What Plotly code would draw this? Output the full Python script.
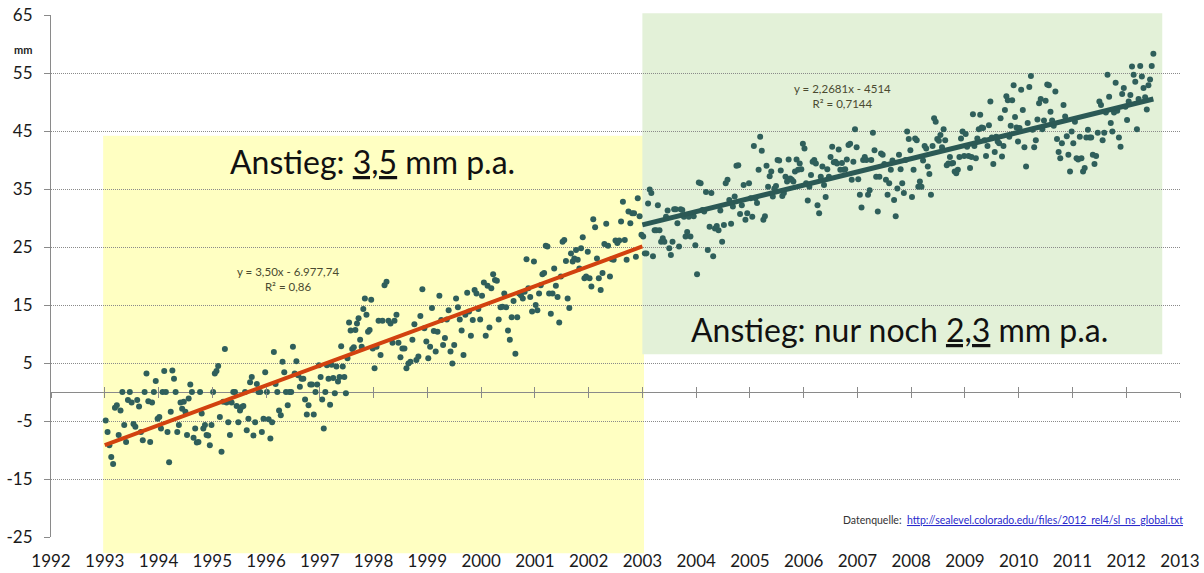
import numpy as np
import plotly.graph_objects as go

# ---------------- data ----------------
years = list(range(1993, 2013))
last_year_span = 0.52  # 2012 data only until mid-year

v1993 = [-4.9, -6.9, -9.2, -11.2, -12.4, -2.7, -2.3, -7.4, -3.2, 0.0, -5.7, -8.6, -1.4, 0.0, -1.8,
         -5.5, -6.0, -1.4, -2.5, -6.9, -8.3, 0.0, 3.2, -1.6, -8.6, -1.8, 0.0, 1.9, -4.6]
v1994 = [-4.3, -6.3, 0.0, 3.6, 0.0, -6.9, -12.1, -3.4, 3.7, 2.3, 0.0, -6.9, -5.7, -1.8, -2.9, -1.7,
         -3.4, -7.4, -1.1, 1.3, 0.0, -7.9, -6.3, -8.7, -8.6, 0.0, -3.7, -6.3, -5.7, -7.4, -7.5, -9.2, -5.7]
v1995 = [0.0, 3.2, 3.6, 4.5, -4.3, -10.3, -1.7, 7.4, -1.8, -5.2, -7.4, -1.8, 0.0, 0.0, -2.4, -5.2,
         -3.2, -2.6, -2.4, 0.0, -6.6, -4.6, 1.7, 2.6, -7.5, -5.2, 1.4, 0.0, 0.0, -6.9, -4.6, 3.4]
v1996 = [0.0, -4.7, -8.0, -5.2, 6.9, 1.4, 0.0, -3.2, -4.0, 5.2, 3.4, 0.0, -2.3, 0.0, 0.0, 7.8,
         3.2, 5.3, 2.9, 0.9, 2.3, 2.3, -1.3, -3.9, -2.3, 1.3, 1.3, -3.9, 0.0, 1.3, 4.6]
v1997 = [2.6, -1.3, -6.3, 0.0, 4.6, 2.3, -2.2, 4.7, 2.4, -0.2, 4.4, 1.8, 2.6, 7.9, 4.4, 2.6, -0.2,
         5.8, 12.0, 10.6, 7.4, 7.7, 10.7, 11.8, 12.7, 9.0, 7.8, 14.3, 16.1, 13.3, 10.4, 10.7, 15.9, 7.5]
v1998 = [4.1, 7.8, 12.3, 6.4, 12.3, 18.4, 19.0, 12.3, 11.8, 8.5, 12.3, 13.3, 8.5, 6.0, 7.5, 7.5,
         4.1, 4.9, 5.2, 9.0, 11.7, 5.5, 6.1, 13.1, 17.7, 11.0, 8.7]
v1999 = [5.8, 7.8, 14.5, 10.5, 7.0, 10.4, 16.6, 12.4, 8.1, 9.3, 12.5, 14.1, 7.0, 4.9, 8.1, 16.1,
         14.6, 12.5, 10.6, 6.4, 13.3, 17.1, 13.9, 9.7, 12.4, 17.6, 17.0, 14.3, 12.5]
v2000 = [16.6, 18.9, 9.7, 18.3, 11.1, 17.9, 20.3, 19.3, 19.2, 12.5, 14.6, 14.7, 17.0, 14.6, 10.6,
         9.0, 12.9, 15.7, 6.6, 12.9, 17.0, 16.7, 16.1, 17.3, 22.9, 17.9, 16.4, 13.9, 22.5]
v2001 = [15.0, 14.1, 17.0, 18.4, 20.3, 20.5, 25.2, 25.1, 17.0, 13.5, 17.0, 21.3, 18.3, 16.4, 12.0,
         19.9, 25.9, 26.2, 22.6, 16.1, 14.5, 23.9, 22.5, 23.0, 24.5, 22.8, 21.3, 24.8, 26.7, 19.6,
         19.9, 24.2]
v2002 = [19.6, 18.2, 29.8, 28.4, 23.0, 19.6, 17.6, 20.5, 25.5, 29.0, 25.2, 19.9, 22.9, 22.8, 26.1,
         25.7, 26.1, 29.4, 32.8, 26.2, 22.8, 31.1, 29.1, 30.8, 30.8, 23.3, 33.4, 30.3, 27.1]
v2003 = [26.8, 23.9, 23.9, 32.5, 34.9, 34.3, 23.4, 27.9, 27.9, 32.2, 27.9, 25.9, 26.5, 25.9, 30.2,
         31.3, 24.8, 23.6, 25.9, 31.5, 31.5, 29.1, 25.1, 31.5, 31.4, 30.2, 26.8, 27.6, 30.2, 26.8,
         30.5, 30.3, 25.3]
v2004 = [20.3, 36.1, 36.0, 31.4, 31.1, 34.5, 24.5, 28.5, 34.3, 23.4, 28.2, 28.6, 27.9, 31.3, 25.9,
         28.8, 36.0, 36.6, 33.1, 29.0, 32.0, 33.7, 39.0, 39.1, 30.7, 32.2, 35.7, 29.7, 30.8, 36.0]
v2005 = [33.4, 30.2, 42.4, 33.4, 32.6, 38.3, 44.0, 41.6, 29.7, 30.3, 39.0, 35.4, 37.2, 38.0, 33.7,
         35.1, 35.5, 40.0, 39.9, 38.2, 33.8, 34.3, 37.1, 36.3, 40.1, 36.8, 36.6, 36.3, 38.0, 40.1,
         38.3, 39.4, 38.4, 42.8]
v2006 = [42.0, 36.0, 33.0, 35.4, 37.4, 39.7, 40.0, 39.4, 32.2, 30.8, 37.1, 38.9, 35.7, 33.6, 38.4,
         37.1, 40.5, 42.3, 39.6, 39.7, 39.4, 41.8, 38.3, 39.5, 38.3, 38.4, 40.1, 42.6, 42.8, 36.6,
         39.7, 45.3, 42.2]
v2007 = [36.7, 34.0, 31.8, 40.0, 40.5, 40.0, 34.0, 34.8, 40.0, 44.7, 41.7, 37.1, 31.1, 37.1, 41.1,
         40.9, 39.3, 36.6, 34.0, 36.0, 38.3, 39.9, 33.1, 30.3, 35.1, 40.9, 38.4, 36.0, 34.3, 40.0,
         44.9, 43.6, 41.7]
v2008 = [33.6, 38.3, 43.7, 43.4, 35.4, 36.3, 35.4, 39.9, 42.4, 42.0, 38.9, 37.6, 34.0, 42.4, 47.2,
         46.6, 43.6, 43.3, 44.3, 42.2, 45.3, 43.4, 39.1, 39.4, 40.5, 39.4, 39.5, 38.0, 37.7, 38.3,
         40.5, 43.7, 44.9, 40.7]
v2009 = [44.5, 42.3, 40.7, 38.6, 40.5, 47.9, 42.4, 40.3, 43.7, 45.3, 47.8, 45.6, 45.5, 43.4, 40.7,
         42.4, 46.0, 50.1, 43.9, 39.3, 41.4, 44.0, 43.2, 42.9, 47.2, 40.6, 42.4, 48.6, 51.0, 50.3,
         44.0, 45.9, 50.3, 52.9, 47.4, 45.6, 43.2]
v2010 = [45.5, 52.1, 48.6, 42.2, 38.9, 46.4, 52.6, 54.5, 45.2, 42.2, 43.4, 47.0, 49.8, 50.5, 45.3,
         46.8, 50.2, 53.0, 52.9, 48.3, 46.8, 45.9, 51.8, 43.6, 41.4, 40.3, 42.9, 49.5, 47.5, 44.1,
         40.9, 38.0, 44.9]
v2011 = [42.9, 46.6, 40.3, 40.1, 44.0, 40.3, 38.0, 38.6, 43.9, 45.2, 43.9, 43.9, 40.9, 39.3, 40.7,
         44.7, 50.1, 49.5, 43.4, 44.7, 48.2, 54.7, 50.9, 46.4, 44.9, 48.2, 53.3, 48.5, 43.9, 42.3,
         51.4, 52.4, 49.2]
v2012 = [46.9, 50.1, 51.2, 56.1, 54.7, 53.5, 45.3, 50.5, 56.2, 54.4, 52.4, 50.8, 48.7, 52.9, 53.9,
         56.2, 58.3]

yearly_values = [v1993, v1994, v1995, v1996, v1997, v1998, v1999, v2000, v2001, v2002,
                 v2003, v2004, v2005, v2006, v2007, v2008, v2009, v2010, v2011, v2012]

split_year = 2003
x_ticks = list(range(1992, 2014))
y_ticks = list(range(-25, 66, 10))
y_ticktext = [str(v) for v in y_ticks]

eq1_text = "y = 3,50x - 6.977,74<br>R² = 0,86"
eq2_text = "y = 2,2681x - 4514<br>R² = 0,7144"
label1 = "Anstieg: <u>3,5</u> mm p.a."
label2 = "Anstieg: nur noch <u>2,3</u> mm p.a."
source_label = "Datenquelle:"
source_url = "http://sealevel.colorado.edu/files/2012_rel4/sl_ns_global.txt"

# ---------------- build series ----------------
t_all, y_all = [], []
for yr, vals in zip(years, yearly_values):
    span = 1.0 if yr < years[-1] else last_year_span
    n = len(vals)
    for i, v in enumerate(vals):
        t_all.append(yr + span * (i + 0.5) / n)
        y_all.append(v)
t_all = np.array(t_all)
y_all = np.array(y_all)

early = t_all < split_year
late = ~early
p_early = np.polyfit(t_all[early], y_all[early], 1)
p_late = np.polyfit(t_all[late], y_all[late], 1)
x_red = np.array([years[0], split_year])
x_green = np.array([split_year, t_all[-1]])

XMIN, XMAX = 1992, 2013
YMIN, YMAX = -25, 65


def px(xv):
    return (xv - XMIN) / (XMAX - XMIN)


def py(yv):
    return (yv - YMIN) / (YMAX - YMIN)


FONT = "Lato, 'Open Sans', sans-serif"
GRID = "#8a8a8a"
DOT = "#2f5f5b"

fig = go.Figure()
fig.add_trace(go.Scatter(x=t_all, y=y_all, mode="markers",
                         marker=dict(color=DOT, size=6), hoverinfo="skip", showlegend=False))
fig.add_trace(go.Scatter(x=x_red, y=np.polyval(p_early, x_red), mode="lines",
                         line=dict(color="#d2420f", width=4), hoverinfo="skip", showlegend=False))
fig.add_trace(go.Scatter(x=x_green, y=np.polyval(p_late, x_green), mode="lines",
                         line=dict(color="#2b5955", width=5), hoverinfo="skip", showlegend=False))
# carriers for the axis drawn through y = 0 (tick marks crossing the zero line)
for ax in ("x2", "x3"):
    fig.add_trace(go.Scatter(x=[t_all[0]], y=[y_all[0]], xaxis=ax, mode="markers",
                             marker=dict(opacity=0), hoverinfo="skip", showlegend=False))

shapes = [
    dict(type="rect", xref="paper", yref="paper", layer="below",
         x0=px(1992.97), x1=px(2003.03), y0=py(-27.8), y1=py(44.2),
         fillcolor="#ffffc2", line=dict(width=0)),
    dict(type="rect", xref="paper", yref="paper", layer="below",
         x0=px(2003.0), x1=px(2012.67), y0=py(6.5), y1=py(65.3),
         fillcolor="#e3f1d8", line=dict(width=0)),
]

annotations = [
    dict(x=1997.98, y=39.7, text=label1, showarrow=False,
         font=dict(family=FONT, size=32, color="#111111")),
    dict(x=2007.79, y=10.7, text=label2, showarrow=False,
         font=dict(family=FONT, size=32, color="#111111")),
    dict(x=1996.41, y=19.4, text=eq1_text, showarrow=False,
         font=dict(family=FONT, size=11.5, color="#4a4a30")),
    dict(x=2006.73, y=51.1, text=eq2_text, showarrow=False,
         font=dict(family=FONT, size=11.5, color="#4a4a30")),
    dict(xref="paper", yref="paper", x=-0.025, y=py(59), xanchor="center", yanchor="middle",
         text="<b>mm</b>", showarrow=False,
         font=dict(family=FONT, size=11, color="#222222")),
    dict(xref="paper", x=px(2013.1), y=-22.1, xanchor="right",
         text=source_label + "  <span style='color:#2a2acc'><u>" + source_url + "</u></span>",
         showarrow=False, font=dict(family=FONT, size=10.5, color="#333333")),
]

zero_pos = py(0)
fig.update_layout(
    width=1204, height=573,
    margin=dict(l=51, r=24, t=15, b=36),
    paper_bgcolor="white", plot_bgcolor="rgba(0,0,0,0)",
    shapes=shapes, annotations=annotations,
    font=dict(family=FONT, color="#1a1a1a"),
    xaxis=dict(range=[XMIN, XMAX], tickvals=x_ticks, showgrid=False, showline=False,
               zeroline=False, ticks="", tickfont=dict(size=17, family=FONT, color="#1a1a1a"),
               ticklabelstandoff=12, automargin=False),
    xaxis2=dict(overlaying="x", anchor="free", position=zero_pos, range=[XMIN, XMAX],
                tickvals=x_ticks, showgrid=False, showline=False, zeroline=False,
                ticks="outside", ticklen=5, tickcolor=GRID, showticklabels=False,
                automargin=False),
    xaxis3=dict(overlaying="x", anchor="free", position=zero_pos, range=[XMIN, XMAX],
                tickvals=x_ticks, showgrid=False, showline=False, zeroline=False,
                ticks="inside", ticklen=5, tickcolor=GRID, showticklabels=False,
                automargin=False),
    yaxis=dict(range=[YMIN, YMAX], tickvals=y_ticks, ticktext=y_ticktext,
               showgrid=True, gridcolor=GRID, griddash="1px,1px", gridwidth=1,
               showline=True, linecolor=GRID, linewidth=1,
               ticks="outside", ticklen=6, tickcolor=GRID,
               zeroline=True, zerolinecolor=GRID, zerolinewidth=1,
               tickfont=dict(size=17, family=FONT, color="#1a1a1a"), ticklabelstandoff=8,
               automargin=False),
)

fig.write_html("out.html", config={"displayModeBar": False},
               post_script="document.body.style.margin='0';")
